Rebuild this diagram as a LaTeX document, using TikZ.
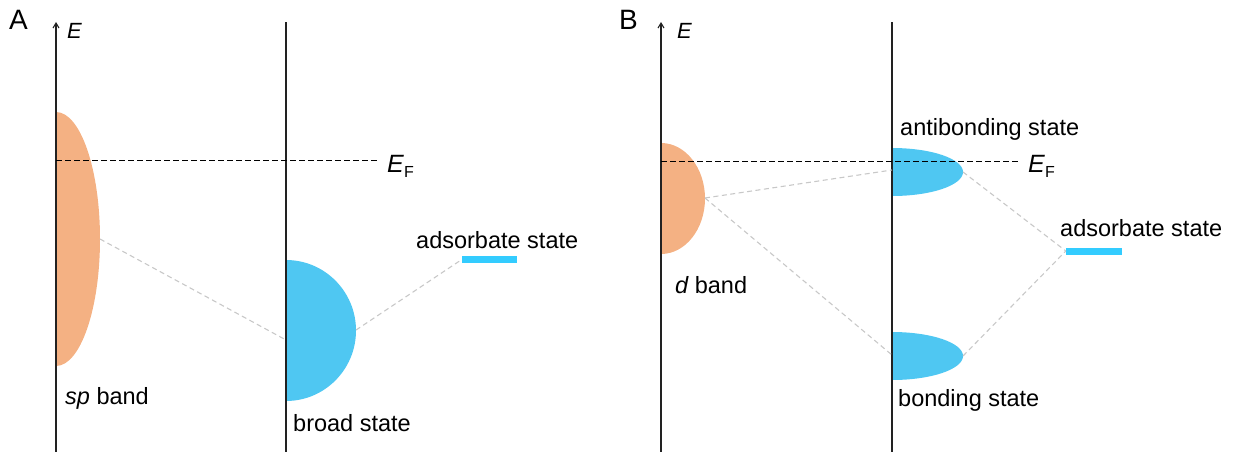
\documentclass[tikz,border=0pt]{standalone}
\usepackage{fontspec}
\setmainfont{Liberation Sans}
\usetikzlibrary{arrows.meta}
\definecolor{bandorange}{HTML}{F4B183}
\definecolor{stateblue}{HTML}{4FC7F2}
\definecolor{adsblue}{HTML}{33CCFF}
\definecolor{linkgray}{HTML}{C8C8C8}
\definecolor{axisgray}{HTML}{222222}
\tikzset{
  axisline/.style={draw=axisgray, line width=1.1pt},
  fermiline/.style={draw=black, line width=1pt, dash pattern=on 5.5pt off 3.5pt},
  linkline/.style={draw=linkgray, line width=1.1pt, dash pattern=on 5pt off 3.5pt},
  lbl/.style={inner sep=0pt, anchor=base west, font=\fontsize{23.5}{28}\selectfont},
  panellbl/.style={inner sep=0pt, anchor=base west, font=\fontsize{28}{32}\selectfont},
  elbl/.style={inner sep=0pt, anchor=base west, font=\fontsize{22}{26}\selectfont},
  eflbl/.style={inner sep=0pt, anchor=base west, font=\fontsize{25}{30}\selectfont},
  adsbar/.style={fill=adsblue, draw=none, inner sep=0pt, minimum height=7pt}
}
\newcommand{\fermilabel}{\itshape E\/\fontsize{16}{19}\selectfont\upshape\raisebox{-5pt}{F}}
\begin{document}
\begin{tikzpicture}[x=1pt, y=-1pt]
\useasboundingbox (0,0) rectangle (1236,452);
% ================= Panel A =================
\node[panellbl] (labA) at (9,30) {A};
% band shapes
\begin{scope}
  \clip (56,100) rectangle (120,380);
  \fill[bandorange] (56,239) ellipse [x radius=44, y radius=127];
\end{scope}
\begin{scope}
  \clip (286,250) rectangle (370,410);
  \fill[stateblue] (286,330.5) ellipse [x radius=70, y radius=70.5];
\end{scope}
\node[adsbar, minimum width=55pt] (barA) at (489.5,259.5) {};
% axes
\coordinate (axAbot) at (56,452);
\coordinate (axAtop) at (56,22);
\coordinate (axA2bot) at (286,452);
\coordinate (axA2top) at (286,22);
\draw[axisline, -{Straight Barb[length=5pt,width=6pt]}] (axAbot) -- (axAtop);
\draw[axisline] (axA2bot) -- (axA2top);
\node[elbl] (EA) at (67,39) {\itshape E};
% Fermi level
\coordinate (fA1) at (56,160.5);
\coordinate (fA2) at (378,160.5);
\draw[fermiline] (fA1) -- (fA2);
\node[eflbl] (EFA) at (387,172) {\fermilabel};
% connectors
\coordinate (spR) at (100,239);
\coordinate (broadL) at (286,340);
\coordinate (broadR) at (356,330);
\draw[linkline] (spR) -- (broadL);
\draw[linkline] (broadR) -- (barA.west);
% labels
\node[lbl] (spl) at (65,404) {\itshape sp\upshape\ band};
\node[lbl] (broadl) at (293,431) {broad state};
\node[lbl] (adsAl) at (416,248) {adsorbate state};
% ================= Panel B =================
\node[panellbl] (labB) at (619,30) {B};
\begin{scope}
  \clip (661,130) rectangle (720,270);
  \fill[bandorange] (661,198.5) ellipse [x radius=44, y radius=55.5];
\end{scope}
\begin{scope}
  \clip (892,140) rectangle (970,200);
  \fill[stateblue] (892,172) ellipse [x radius=71, y radius=24];
\end{scope}
\begin{scope}
  \clip (892,320) rectangle (970,390);
  \fill[stateblue] (892,356) ellipse [x radius=71, y radius=24];
\end{scope}
\node[adsbar, minimum width=56pt] (barB) at (1094,251) {};
\coordinate (axBbot) at (661,452);
\coordinate (axBtop) at (661,22);
\coordinate (axB2bot) at (892,452);
\coordinate (axB2top) at (892,22);
\draw[axisline, -{Straight Barb[length=5pt,width=6pt]}] (axBbot) -- (axBtop);
\draw[axisline] (axB2bot) -- (axB2top);
\node[elbl] (EB) at (677,39) {\itshape E};
\coordinate (fB1) at (661,161);
\coordinate (fB2) at (1020,161);
\draw[fermiline] (fB1) -- (fB2);
\node[eflbl] (EFB) at (1028,172) {\fermilabel};
% connectors
\coordinate (dR) at (705,198);
\coordinate (abL) at (892,170);
\coordinate (abR) at (963,172);
\coordinate (bL) at (892,355);
\coordinate (bR) at (963,356);
\draw[linkline] (dR) -- (abL);
\draw[linkline] (dR) -- (bL);
\draw[linkline] (abR) -- (barB.west);
\draw[linkline] (bR) -- (barB.west);
% labels
\node[lbl] (dl) at (675,293) {\itshape d\upshape\ band};
\node[lbl] (abl) at (900,135) {antibonding state};
\node[lbl] (bl) at (898,406) {bonding state};
\node[lbl] (adsBl) at (1060,236) {adsorbate state};
\end{tikzpicture}
\end{document}
